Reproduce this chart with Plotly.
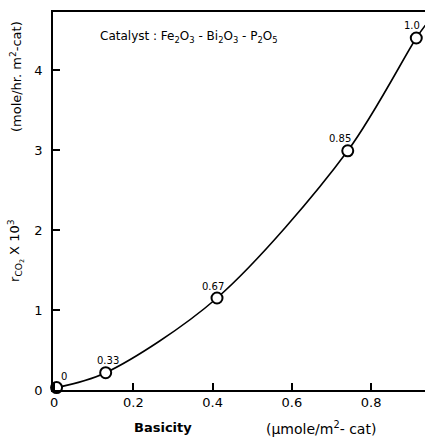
import plotly.graph_objects as go

# data
basicity = [0.006, 0.130, 0.411, 0.741, 0.914]
rate = [0.03, 0.216, 1.15, 2.99, 4.40]
ratio_labels = ["0", "0.33", "0.67", "0.85", "1.0"]
# smooth curve drawn through the points (extends slightly past last point)
curve_x = [0.006, 0.130, 0.411, 0.741, 0.914, 0.937]
curve_y = [0.03, 0.216, 1.15, 2.99, 4.40, 4.56]
x_ticks = [0, 0.2, 0.4, 0.6, 0.8]
x_ticktext = ["0", "0.2", "0.4", "0.6", "0.8"]
y_ticks = [0, 1, 2, 3, 4]

label_shift_x = [7, 2, -4, -8, -4]
label_shift_y = [11, 12, 12, 12, 13]

font = "DejaVu Sans"

fig = go.Figure()
fig.add_trace(go.Scatter(x=curve_x, y=curve_y, mode="lines",
                         line=dict(color="black", width=1.6, shape="spline", smoothing=0.9),
                         hoverinfo="skip", showlegend=False, cliponaxis=False))
fig.add_trace(go.Scatter(x=basicity, y=rate, mode="markers",
                         marker=dict(symbol="circle", size=11, color="white",
                                     line=dict(color="black", width=2)),
                         showlegend=False, cliponaxis=False))

for x, y, t, dx, dy in zip(basicity, rate, ratio_labels, label_shift_x, label_shift_y):
    fig.add_annotation(x=x, y=y, text=t, showarrow=False, xshift=dx, yshift=dy,
                       font=dict(family=font, size=10, color="black"))

fig.add_annotation(xref="paper", yref="paper", x=0.12, y=0.935, xanchor="left", yanchor="middle",
                   text="Catalyst : Fe<sub>2</sub>O<sub>3</sub> - Bi<sub>2</sub>O<sub>3</sub> - P<sub>2</sub>O<sub>5</sub>",
                   showarrow=False, font=dict(family=font, size=12, color="black"))

# axis titles
fig.add_annotation(xref="paper", yref="paper", x=-0.1, y=0.83, xanchor="center", yanchor="middle",
                   text="(mole/hr. m<sup>2</sup>-cat)", textangle=-90, showarrow=False,
                   font=dict(family=font, size=13, color="black"))
fig.add_annotation(xref="paper", yref="paper", x=-0.1, y=0.37, xanchor="center", yanchor="middle",
                   text="r<sub>CO<sub>2</sub></sub> X 10<sup>3</sup>", textangle=-90, showarrow=False,
                   font=dict(family=font, size=13, color="black"))
fig.add_annotation(xref="paper", yref="paper", x=0.295, y=-0.1, xanchor="center", yanchor="middle",
                   text="<b>Basicity</b>", showarrow=False,
                   font=dict(family=font, size=13, color="black"))
fig.add_annotation(xref="paper", yref="paper", x=0.72, y=-0.1, xanchor="center", yanchor="middle",
                   text="(μmole/m<sup>2</sup>- cat)", showarrow=False,
                   font=dict(family=font, size=14, color="black"))

fig.update_xaxes(range=[-0.003, 0.936], tickvals=x_ticks, ticktext=x_ticktext,
                 ticks="inside", ticklen=7, tickwidth=1.5, tickcolor="black",
                 showline=True, linecolor="black", linewidth=1.5, mirror=True,
                 showgrid=False, zeroline=False, automargin=False,
                 tickfont=dict(family=font, size=13, color="black"))
fig.update_yaxes(range=[0, 4.725], tickvals=y_ticks,
                 ticks="inside", ticklen=7, tickwidth=1.5, tickcolor="black",
                 showline=True, linecolor="black", linewidth=1.5,
                 showgrid=False, zeroline=False, ticklabelstandoff=6, automargin=False,
                 tickfont=dict(family=font, size=13, color="black"))

fig.update_layout(width=425, height=440, margin=dict(l=53, r=0, t=12, b=50, autoexpand=False),
                  paper_bgcolor="white", plot_bgcolor="white", showlegend=False)

fig.write_html("out.html", config={"displayModeBar": False},
               post_script="document.body.style.margin='0';document.body.style.overflow='hidden';")
